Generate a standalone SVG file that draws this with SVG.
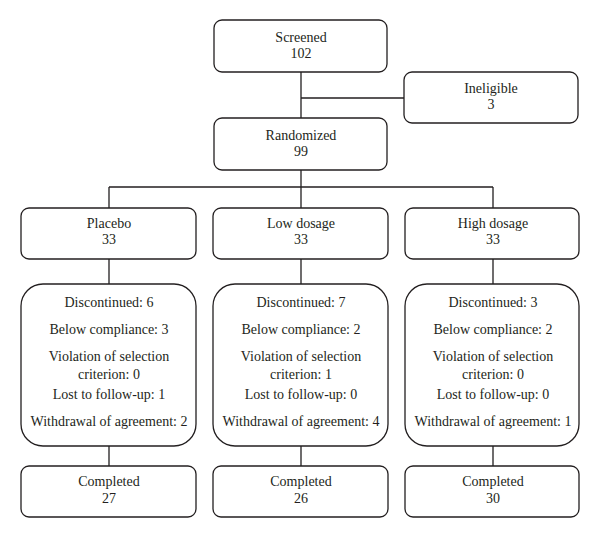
<svg xmlns="http://www.w3.org/2000/svg" width="600" height="538" viewBox="0 0 600 538">
<style>
.box{fill:#fff;stroke:#231f20;stroke-width:1.3}
.ln{fill:none;stroke:#231f20;stroke-width:1.3}
</style>
<rect width="600" height="538" fill="#fff"/>
<g id="connectors">
<path class="ln" d="M301 72V118M301 98H404M301 170V187M109 187H493M109 187V208M301 187V208M493 187V208M109 259V284M301 259V284M493 259V284M109 446V466M301 446V466M493 446V466"/>
</g>
<g font-family="Liberation Serif, DejaVu Serif, serif" font-size="14" fill="#231f20" text-anchor="middle">
<g id="screened"><rect class="box" x="214" y="20" width="173" height="52" rx="8"/><text x="301" y="42">Screened</text><text x="301" y="58">102</text></g>
<g id="ineligible"><rect class="box" x="404" y="72" width="174" height="51" rx="8"/><text x="491" y="93">Ineligible</text><text x="491" y="109">3</text></g>
<g id="randomized"><rect class="box" x="214" y="118" width="173" height="52" rx="8"/><text x="301" y="140">Randomized</text><text x="301" y="156">99</text></g>
<g id="placebo"><rect class="box" x="21" y="208" width="175" height="51" rx="8"/><text x="109" y="228">Placebo</text><text x="109" y="244">33</text></g>
<g id="low"><rect class="box" x="213" y="208" width="175" height="51" rx="8"/><text x="301" y="228">Low dosage</text><text x="301" y="244">33</text></g>
<g id="high"><rect class="box" x="405" y="208" width="174" height="51" rx="8"/><text x="493" y="228">High dosage</text><text x="493" y="244">33</text></g>
<g id="disc-placebo"><rect class="box" x="21" y="284" width="175" height="162" rx="22"/>
<text x="109" y="307">Discontinued: 6</text><text x="109" y="334">Below compliance: 3</text><text x="109" y="361">Violation of selection</text><text x="109" y="379">criterion: 0</text><text x="109" y="399">Lost to follow-up: 1</text><text x="109" y="426">Withdrawal of agreement: 2</text></g>
<g id="disc-low"><rect class="box" x="213" y="284" width="175" height="162" rx="22"/>
<text x="301" y="307">Discontinued: 7</text><text x="301" y="334">Below compliance: 2</text><text x="301" y="361">Violation of selection</text><text x="301" y="379">criterion: 1</text><text x="301" y="399">Lost to follow-up: 0</text><text x="301" y="426">Withdrawal of agreement: 4</text></g>
<g id="disc-high"><rect class="box" x="405" y="284" width="174" height="162" rx="22"/>
<text x="493" y="307">Discontinued: 3</text><text x="493" y="334">Below compliance: 2</text><text x="493" y="361">Violation of selection</text><text x="493" y="379">criterion: 0</text><text x="493" y="399">Lost to follow-up: 0</text><text x="493" y="426">Withdrawal of agreement: 1</text></g>
<g id="comp-placebo"><rect class="box" x="21" y="466" width="175" height="51" rx="8"/><text x="109" y="486">Completed</text><text x="109" y="503">27</text></g>
<g id="comp-low"><rect class="box" x="213" y="466" width="175" height="51" rx="8"/><text x="301" y="486">Completed</text><text x="301" y="503">26</text></g>
<g id="comp-high"><rect class="box" x="405" y="466" width="174" height="51" rx="8"/><text x="493" y="486">Completed</text><text x="493" y="503">30</text></g>
</g>
</svg>
